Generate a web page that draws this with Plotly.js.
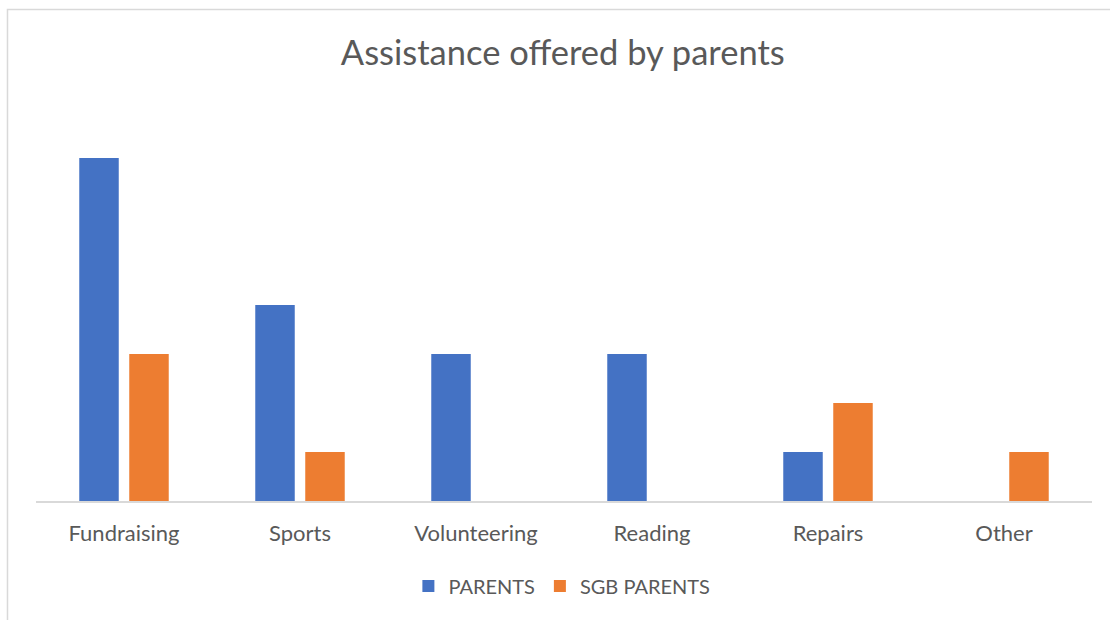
<!DOCTYPE html>
<html>
<head>
<meta charset="utf-8">
<script src="https://cdn.plot.ly/plotly-3.0.1.min.js"></script>
<style>html,body{margin:0;padding:0;background:#fff;}#chart{width:1110px;height:620px;}</style>
</head>
<body>
<div id="chart"></div>
<script>
const categories = ["Fundraising", "Sports", "Volunteering", "Reading", "Repairs", "Other"];
const parents = [7, 4, 3, 3, 1, 0];
const sgbParents = [3, 1, 0, 0, 2, 1];
const seriesNames = ["PARENTS", "SGB PARENTS"];

const font = "Lato, 'Open Sans', sans-serif";
const traces = [
  {type: "bar", name: seriesNames[0], x: categories, y: parents, marker: {color: "#4472C4"}, hoverinfo: "x+y"},
  {type: "bar", name: seriesNames[1], x: categories, y: sgbParents, marker: {color: "#ED7D31"}, hoverinfo: "x+y"}
];
const layout = {
  width: 1110, height: 620,
  margin: {l: 36, r: 18, t: 109, b: 119},
  paper_bgcolor: "#fff", plot_bgcolor: "#fff",
  barmode: "group", bargap: 0.432, bargroupgap: 0.21,
  title: {text: "Assistance offered by parents", font: {family: font, size: 34.5, color: "#595959"}, x: 0.507, xanchor: "center", y: 0.915, yanchor: "middle"},
  xaxis: {showline: true, linecolor: "#d9d9d9", linewidth: 1.5, ticks: "", ticklabelstandoff: 12, tickfont: {family: font, size: 22, color: "#595959"}, showgrid: false, zeroline: false, fixedrange: true},
  yaxis: {range: [0, 8], showticklabels: false, showgrid: false, zeroline: false, showline: false, ticks: "", fixedrange: true},
  showlegend: true,
  legend: {orientation: "h", x: 0.498, xanchor: "center", y: -0.217, yanchor: "middle", font: {family: font, size: 20, color: "#595959"}, traceorder: "normal", itemwidth: 30},
  shapes: [{type: "rect", xref: "paper", yref: "paper", x0: -0.027, x1: 1.05, y0: -0.33, y1: 1.2538, line: {color: "#d9d9d9", width: 1.5}, fillcolor: "rgba(0,0,0,0)", layer: "below"}]
};
Plotly.newPlot("chart", traces, layout, {displayModeBar: false, staticPlot: true});
</script>
</body>
</html>
